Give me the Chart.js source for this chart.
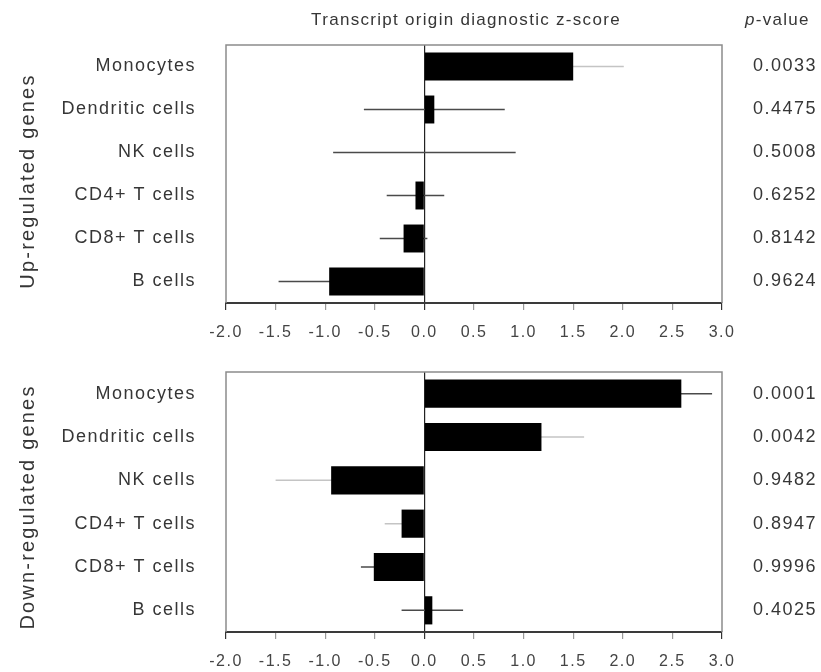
<!DOCTYPE html>
<html>
<head>
<meta charset="utf-8">
<title>Transcript origin diagnostic z-score</title>
<script src="https://cdn.jsdelivr.net/npm/chart.js@4.4.1/dist/chart.umd.min.js"></script>
<style>
  html, body { margin: 0; padding: 0; background: #fff; }
  #wrap { position: relative; width: 821px; height: 672px; }
  canvas { position: absolute; left: 0; }
</style>
</head>
<body>
<div id="wrap">
  <canvas id="downChart" width="821" height="336" style="top:336px"></canvas>
  <canvas id="upChart" width="821" height="352" style="top:0"></canvas>
</div>
<script>
// data
const cellTypes = ['Monocytes', 'Dendritic cells', 'NK cells', 'CD4+ T cells', 'CD8+ T cells', 'B cells'];

const upZ = [1.50, 0.10, 0.00, -0.09, -0.21, -0.96];
const upErr = [0.51, 0.71, 0.92, 0.29, 0.24, 0.51];
const upP = ['0.0033', '0.4475', '0.5008', '0.6252', '0.8142', '0.9624'];

const downZ = [2.59, 1.18, -0.94, -0.23, -0.51, 0.08];
const downErr = [0.31, 0.43, 0.56, 0.17, 0.13, 0.31];
const downP = ['0.0001', '0.0042', '0.9482', '0.8947', '0.9996', '0.4025'];

const xTicks = [-2.0, -1.5, -1.0, -0.5, 0.0, 0.5, 1.0, 1.5, 2.0, 2.5, 3.0];

const LIGHT = '#c4c4c4';
const DARK = '#4a4a4a';
const upErrColors = [LIGHT, DARK, DARK, DARK, DARK, DARK];
const downErrColors = [DARK, LIGHT, LIGHT, LIGHT, DARK, DARK];

const FONT = "'Liberation Sans', Arial, sans-serif";
const TEXT = '#363636';

function panelPlugin(errs, errColors, sideLabel, sideY, withHeader) {
  return {
    id: 'panel',
    beforeDraw(chart) {
      chart.ctx.letterSpacing = '1.5px';
    },
    beforeDatasetsDraw(chart) {
      const { ctx, chartArea: a, scales: { x, y } } = chart;
      const vals = chart.data.datasets[0].data;
      ctx.save();
      // box: top, left, right (bottom is the x axis)
      ctx.strokeStyle = '#8c8c8c';
      ctx.lineWidth = 1.5;
      ctx.beginPath();
      ctx.moveTo(a.left, a.bottom);
      ctx.lineTo(a.left, a.top);
      ctx.lineTo(a.right, a.top);
      ctx.lineTo(a.right, a.bottom);
      ctx.stroke();
      // error bars, under the bars
      ctx.lineWidth = 1.5;
      vals.forEach((v, i) => {
        const py = y.getPixelForValue(i);
        ctx.strokeStyle = errColors[i];
        ctx.beginPath();
        ctx.moveTo(x.getPixelForValue(v - errs[i]), py);
        ctx.lineTo(x.getPixelForValue(v + errs[i]), py);
        ctx.stroke();
      });
      ctx.restore();
    },
    afterDraw(chart) {
      const ctx = chart.ctx;
      ctx.save();
      ctx.fillStyle = TEXT;
      ctx.textBaseline = 'middle';
      // rotated side label
      ctx.font = '20px ' + FONT;
      ctx.letterSpacing = '2.2px';
      ctx.translate(28, sideY);
      ctx.rotate(-Math.PI / 2);
      ctx.textAlign = 'center';
      ctx.fillText(sideLabel, 0, 0);
      ctx.restore();

      if (withHeader) {
        ctx.save();
        ctx.fillStyle = TEXT;
        ctx.textBaseline = 'middle';
        ctx.font = '17px ' + FONT;
        ctx.letterSpacing = '1.3px';
        ctx.textAlign = 'center';
        ctx.fillText('Transcript origin diagnostic z-score', 466, 20);
        ctx.textAlign = 'left';
        ctx.font = 'italic 17px ' + FONT;
        ctx.fillText('p', 745, 20);
        const w = ctx.measureText('p').width;
        ctx.font = '17px ' + FONT;
        ctx.fillText('-value', 745 + w, 20);
        ctx.restore();
      }
    }
  };
}

function makeChart(id, zVals, errs, pVals, errColors, sideLabel, sideY, padTop, xHeight, withHeader) {
  return new Chart(document.getElementById(id), {
    type: 'bar',
    data: {
      labels: cellTypes,
      datasets: [{
        data: zVals,
        backgroundColor: '#000',
        borderWidth: 0,
        barPercentage: 0.65,
        categoryPercentage: 1
      }]
    },
    options: {
      indexAxis: 'y',
      responsive: false,
      animation: false,
      layout: { padding: { top: padTop, left: 0, right: 0, bottom: 0 } },
      plugins: { legend: { display: false }, tooltip: { enabled: false } },
      scales: {
        x: {
          type: 'linear',
          min: -2,
          max: 3,
          afterBuildTicks: s => { s.ticks = xTicks.map(v => ({ value: v })); },
          afterFit: s => { s.height = xHeight; s.paddingLeft = 0; s.paddingRight = 0; },
          ticks: {
            autoSkip: false,
            maxRotation: 0,
            padding: 13,
            color: '#444',
            font: { family: FONT, size: 16 },
            callback: v => v.toFixed(1)
          },
          grid: {
            drawOnChartArea: true,
            color: c => (c.tick && c.tick.value === 0 ? '#222' : 'rgba(0,0,0,0)'),
            lineWidth: 1.2,
            tickLength: 7,
            tickColor: c => (c.tick && (c.tick.value === 0 || c.tick.value === -2 || c.tick.value === 3) ? '#333' : '#999')
          },
          border: { display: true, color: '#3a3a3a', width: 2 }
        },
        y: {
          type: 'category',
          afterFit: s => { s.width = 226; s.paddingTop = 0; s.paddingBottom = 0; },
          grid: { display: false },
          border: { display: false },
          ticks: {
            padding: 22,
            color: TEXT,
            font: { family: FONT, size: 18 }
          }
        },
        y2: {
          type: 'category',
          labels: pVals,
          position: 'right',
          offset: true,
          afterFit: s => { s.width = 99; s.paddingTop = 0; s.paddingBottom = 0; },
          grid: { display: false },
          border: { display: false },
          ticks: {
            padding: 23,
            color: TEXT,
            font: { family: FONT, size: 18 }
          }
        }
      }
    },
    plugins: [panelPlugin(errs, errColors, sideLabel, sideY, withHeader)]
  });
}

// top canvas is taller than its half so its tick labels are not cut off
makeChart('upChart', upZ, upErr, upP, upErrColors, 'Up-regulated genes', 181, 45, 49, true);
makeChart('downChart', downZ, downErr, downP, downErrColors, 'Down-regulated genes', 171, 36, 40, false);
</script>
</body>
</html>
